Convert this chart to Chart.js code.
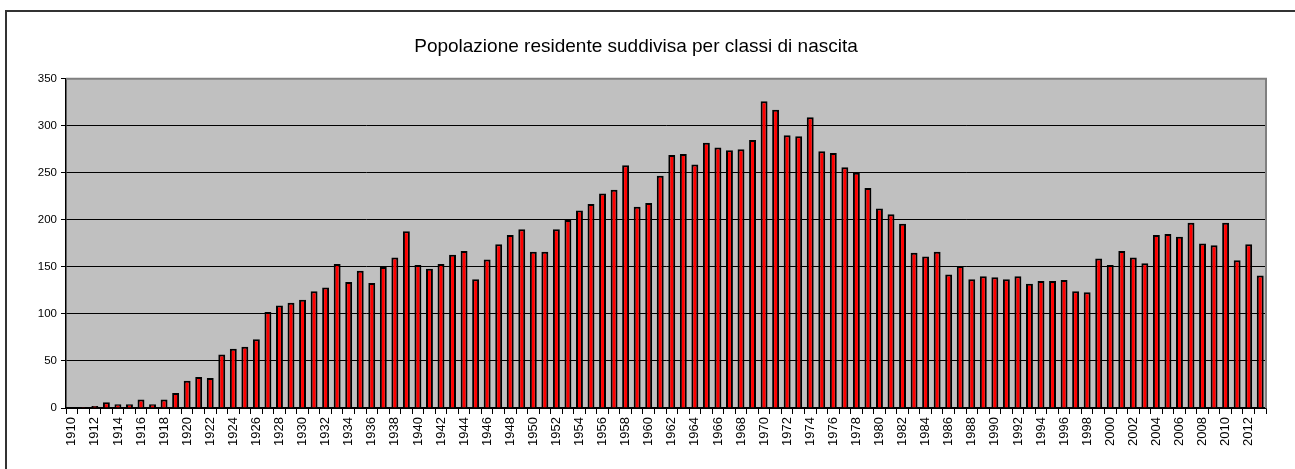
<!DOCTYPE html>
<html>
<head>
<meta charset="utf-8">
<script src="https://cdn.jsdelivr.net/npm/chart.js@4/dist/chart.umd.min.js"></script>
<style>
  body { margin: 0; background: #fff; }
  canvas { display: block; }
</style>
</head>
<body>
<canvas id="graficoNascite" width="1295" height="469"></canvas>
<script>
// anni di nascita 1910 - 2013
const anni = [];
for (let a = 1910; a <= 2013; a++) anni.push(String(a));

const residenti = [
  0, 1, 2, 6, 4, 4, 9, 4, 9, 16,
  29, 33, 32, 57, 63, 65, 73, 102, 109, 112,
  115, 124, 128, 153, 134, 146, 133, 150, 160, 188,
  152, 148, 153, 163, 167, 137, 158, 174, 184, 190,
  166, 166, 190, 200, 210, 217, 228, 232, 258, 214,
  218, 247, 269, 270, 259, 282, 277, 274, 275, 285,
  326, 317, 290, 289, 309, 273, 271, 256, 250, 234,
  212, 206, 196, 165, 161, 166, 142, 151, 137, 140,
  139, 137, 140, 132, 135, 135, 136, 124, 123, 159,
  152, 167, 160, 154, 184, 185, 182, 197, 175, 173,
  197, 157, 174, 141
];

const yTicks = [0, 50, 100, 150, 200, 250, 300, 350];

// sfondo grigio dell'area del grafico + cornice esterna
const sfondo = {
  id: 'sfondo',
  beforeDraw(chart) {
    const c = chart.ctx, a = chart.chartArea;
    c.save();
    c.fillStyle = '#C0C0C0';
    c.fillRect(a.left, a.top, a.right - a.left, a.bottom - a.top);
    // cornice esterna (solo sopra e a sinistra, come nell'immagine)
    c.strokeStyle = '#333333';
    c.lineWidth = 2;
    c.beginPath();
    c.moveTo(1295, 11);
    c.lineTo(6, 11);
    c.lineTo(6, 469);
    c.stroke();
    c.restore();
  },
  afterDatasetsDraw(chart) {
    const c = chart.ctx, a = chart.chartArea;
    c.save();
    c.strokeStyle = '#808080';
    c.lineWidth = 2;
    c.beginPath();
    c.moveTo(a.left, a.top);
    c.lineTo(a.right, a.top);
    c.lineTo(a.right, a.bottom);
    c.stroke();
    c.restore();
  }
};

const ctx = document.getElementById('graficoNascite');
new Chart(ctx, {
  type: 'bar',
  data: {
    labels: anni,
    datasets: [{
      label: 'Residenti',
      data: residenti,
      backgroundColor: '#FF0000',
      borderColor: '#000000',
      borderWidth: 2,
      barPercentage: 0.6,
      categoryPercentage: 1.0
    }]
  },
  plugins: [sfondo],
  options: {
    responsive: false,
    animation: false,
    layout: { padding: { left: 6, right: 29, top: 0, bottom: 1 } },
    plugins: {
      legend: { display: false },
      tooltip: { enabled: false },
      title: {
        display: true,
        text: 'Popolazione residente suddivisa per classi di nascita',
        color: '#000',
        font: { family: 'Liberation Sans', size: 19, weight: 'normal' },
        padding: { top: 35, bottom: 21 }
      }
    },
    scales: {
      x: {
        offset: true,
        afterFit: s => { s.height = 60; },
        ticks: {
          autoSkip: false,
          maxRotation: 90,
          minRotation: 90,
          color: '#000',
          padding: 3,
          font: { family: 'Liberation Sans', size: 13 },
          callback: function (v, i) { return i % 2 === 0 ? anni[i] : ''; }
        },
        grid: {
          offset: true,
          drawOnChartArea: false,
          color: '#000',
          tickLength: 6
        },
        border: { color: '#000', width: 1.5 }
      },
      y: {
        min: 0,
        max: 350,
        afterFit: s => { s.width = 60; },
        afterBuildTicks: s => { s.ticks = yTicks.map(v => ({ value: v })); },
        ticks: {
          color: '#000',
          padding: 4,
          font: { family: 'Liberation Sans', size: 11.5 }
        },
        grid: {
          color: '#000',
          lineWidth: 1,
          tickLength: 5
        },
        border: { color: '#000', width: 1.5 }
      }
    }
  }
});
</script>
</body>
</html>
